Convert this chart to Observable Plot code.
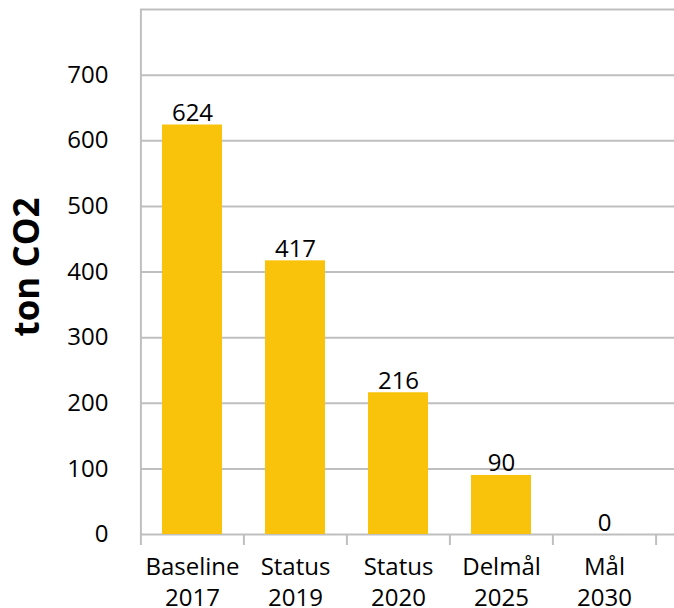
<!DOCTYPE html>
<html>
<head>
<meta charset="utf-8">
<script src="https://cdn.jsdelivr.net/npm/d3@7"></script>
<script src="https://cdn.jsdelivr.net/npm/@observablehq/plot@0.6"></script>
<style>
  html, body { margin: 0; padding: 0; background: #fff; }
  #chart svg { display: block; }
</style>
</head>
<body>
<div id="chart"></div>
<script>
const categories = ["Baseline\n2017", "Status\n2019", "Status\n2020", "Delmål\n2025", "Mål\n2030"];
const values = [624, 417, 216, 90, 0];
const yTickValues = [0, 100, 200, 300, 400, 500, 600, 700];
const gridValues = [0, 100, 200, 300, 400, 500, 600, 700, 800];
const yLabel = "ton CO2";

const data = categories.map((c, i) => ({category: c, value: values[i]}));

const W = 674, H = 608;
const mL = 140, mT = 9, mB = 74;
const xRange = [140, 656];
const step = (xRange[1] - xRange[0]) / categories.length;
const gray = "#BFBFBF";
const font = "'Open Sans', Lato, sans-serif";

const chart = Plot.plot({
  width: W,
  height: H,
  marginLeft: mL,
  marginRight: 0,
  marginTop: mT,
  marginBottom: mB,
  style: {fontFamily: font, background: "#fff", color: "#000"},
  x: {domain: categories, range: xRange, paddingInner: 0.42, paddingOuter: 0.21},
  y: {domain: [0, 800]},
  marks: [
    Plot.ruleY(gridValues, {stroke: gray, strokeWidth: 2}),
    Plot.ruleX([categories[0]], {x: d => d, y1: 0, y2: 800, dx: -step / 2, stroke: gray, strokeWidth: 2}),
    Plot.ruleX(categories, {x: d => d, y1: 0, y2: 0, insetBottom: -11, dx: -step / 2, stroke: gray, strokeWidth: 2}),
    Plot.ruleX([categories[categories.length - 1]], {x: d => d, y1: 0, y2: 0, insetBottom: -11, dx: step / 2, stroke: gray, strokeWidth: 2}),
    Plot.barY(data, {x: "category", y: "value", fill: "#F9C30C"}),
    Plot.text(data, {x: "category", y: "value", text: d => String(d.value), lineAnchor: "bottom", dy: -4, fontSize: 24, fill: "#000"}),
    Plot.axisY({ticks: yTickValues, tickSize: 0, tickPadding: 32, fontSize: 24, label: null}),
    Plot.axisX({tickSize: 0, tickPadding: 19, fontSize: 24, lineHeight: 1.28, label: null}),
    Plot.text([yLabel], {frameAnchor: "left", textAnchor: "middle", lineAnchor: "middle", dx: -113, dy: -5, rotate: -90, fontSize: 35, fontWeight: "bold", fill: "#000", text: d => d})
  ]
});

document.getElementById("chart").appendChild(chart);
</script>
</body>
</html>
